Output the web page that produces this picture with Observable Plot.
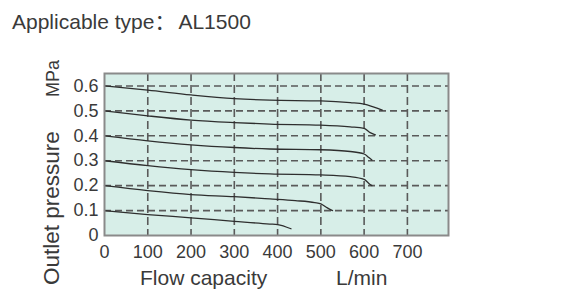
<!DOCTYPE html>
<html><head><meta charset="utf-8">
<script src="https://cdn.jsdelivr.net/npm/d3@7"></script>
<script src="https://cdn.jsdelivr.net/npm/@observablehq/plot@0.6"></script>
<style>
body{margin:0;background:#fff;font-family:"Liberation Sans",Arial,sans-serif;}
#title{height:40px;box-sizing:border-box;padding:8px 0 0 12px;font-size:21px;color:#3a3a3a;line-height:24px;white-space:nowrap;}
#chart svg{display:block;}
</style></head>
<body>
<div id="title"></div>
<div id="chart"></div>
<script>
const titleMain = "Applicable type";
const titleSep = "：";
const titleModel = "AL1500";
const xLabel = "Flow capacity";
const xUnit = "L/min";
const yLabel = "Outlet pressure";
const yUnit = "MPa";
const xTicks = [0, 100, 200, 300, 400, 500, 600, 700];
const yTicks = [0, 0.1, 0.2, 0.3, 0.4, 0.5, 0.6];
const setPressures = [0.6, 0.5, 0.4, 0.3, 0.2, 0.1];
const flow06 = [0, 100, 200, 300, 382, 500, 568, 600, 621, 642];
const pres06 = [0.6, 0.583, 0.564, 0.549, 0.543, 0.540, 0.533, 0.527, 0.516, 0.503];
const flow05 = [0, 100, 200, 300, 382, 500, 568, 600, 614, 626];
const pres05 = [0.5, 0.48, 0.463, 0.453, 0.447, 0.443, 0.436, 0.43, 0.413, 0.404];
const flow04 = [0, 100, 200, 300, 382, 500, 568, 600, 611, 618];
const pres04 = [0.4, 0.38, 0.364, 0.353, 0.347, 0.344, 0.337, 0.327, 0.313, 0.303];
const flow03 = [0, 100, 200, 300, 382, 500, 568, 600, 611, 618];
const pres03 = [0.3, 0.28, 0.264, 0.253, 0.247, 0.243, 0.236, 0.225, 0.209, 0.2];
const flow02 = [0, 100, 200, 300, 382, 441, 486, 500, 515, 527];
const pres02 = [0.2, 0.18, 0.164, 0.156, 0.147, 0.14, 0.132, 0.127, 0.111, 0.1];
const flow01 = [0, 100, 200, 300, 382, 400, 431];
const pres01 = [0.1, 0.084, 0.071, 0.057, 0.046, 0.044, 0.027];

const title = document.getElementById("title");
title.append(titleMain);
const sep = document.createElement("span");
sep.style.fontFamily = "'Noto Sans CJK SC'";
sep.style.margin = "0 3px 0 0";
sep.textContent = titleSep;
title.append(sep, titleModel);

const flows = [flow06, flow05, flow04, flow03, flow02, flow01];
const pressures = [pres06, pres05, pres04, pres03, pres02, pres01];
const rows = [];
setPressures.forEach((s, i) => flows[i].forEach((f, j) => rows.push({set: s, flow: f, p: pressures[i][j]})));

const W = 570, H = 260;
const mL = 104, mT = 33, mR = 122, mB = 65;
const chart = Plot.plot({
  width: W, height: H,
  marginLeft: mL, marginTop: mT, marginRight: mR, marginBottom: mB,
  style: {fontSize: "18px", fontFamily: "'Liberation Sans', Arial, sans-serif", color: "#3a3a3a", background: "#fff", overflow: "visible"},
  x: {domain: [0, 795], ticks: xTicks, tickSize: 0, tickPadding: 10, label: null},
  y: {domain: [0, 0.65], ticks: yTicks, tickSize: 0, tickPadding: 6, label: null,
      tickFormat: d => d === 0 ? "0" : d.toFixed(1)},
  marks: [
    Plot.frame({fill: "#d7eee8", stroke: "none"}),
    Plot.ruleX(xTicks.filter(d => d > 0), {stroke: "#5a5a5a", strokeWidth: 1.6, strokeDasharray: "8,4"}),
    Plot.ruleY(yTicks.filter(d => d > 0), {stroke: "#5a5a5a", strokeWidth: 1.6, strokeDasharray: "7,4"}),
    Plot.line(rows, {x: "flow", y: "p", z: "set", stroke: "#2e2e2e", strokeWidth: 1.3, curve: "monotone-x"}),
    Plot.frame({stroke: "#8a8a8a", strokeWidth: 2})
  ]
});
document.getElementById("chart").appendChild(chart);
const svg = d3.select(chart);
const lab = svg.append("g").attr("text-anchor", "start").attr("fill", "#3a3a3a");
lab.append("text").attr("x", 140).attr("y", 245).attr("font-size", 21).text(xLabel);
lab.append("text").attr("x", 336).attr("y", 245).attr("font-size", 21).text(xUnit);
lab.append("text").attr("transform", "translate(59,245) rotate(-90)").attr("font-size", 22.5).text(yLabel);
lab.append("text").attr("transform", "translate(59,57) rotate(-90)").attr("font-size", 18).text(yUnit);
</script>
</body></html>
